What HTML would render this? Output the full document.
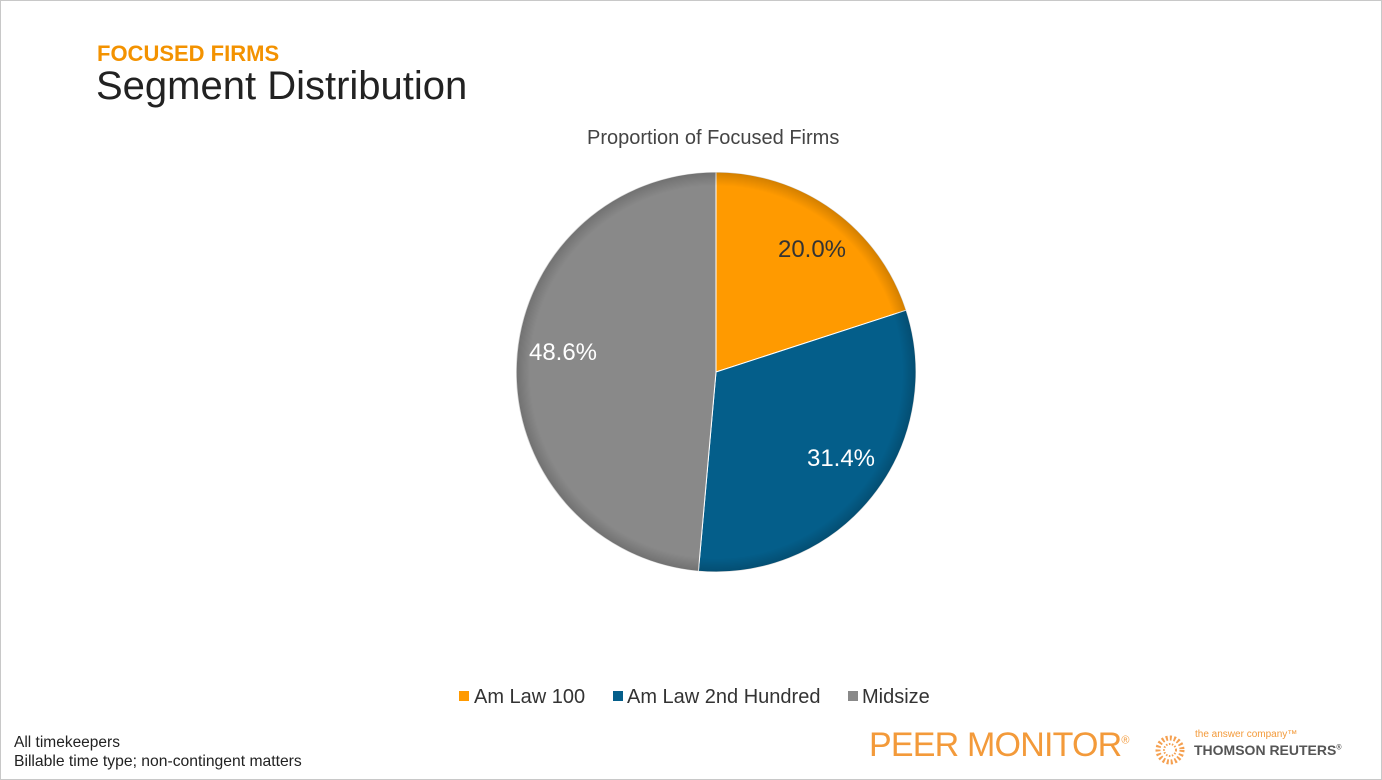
<!DOCTYPE html>
<html><head><style>
body{margin:0;width:1382px;height:780px;background:#fff;position:relative;overflow:hidden;font-family:"Liberation Sans",sans-serif}
.frame{position:absolute;left:0;top:0;width:1380px;height:778px;border:1px solid #c8c8c8}
.t{position:absolute;white-space:nowrap}
</style></head><body>
<div class="frame"></div>
<div class="t" style="left:97px;top:41px;font-size:22px;font-weight:bold;color:#f39200">FOCUSED FIRMS</div>
<div class="t" style="left:96px;top:64px;font-size:40px;color:#222">Segment Distribution</div>
<div class="t" style="left:587px;top:127px;font-size:20px;color:#444">Proportion of Focused Firms</div>
<svg style="position:absolute;left:0;top:0" width="1382" height="780">
<defs>
<radialGradient id="g" cx="716" cy="372" r="200" gradientUnits="userSpaceOnUse">
<stop offset="0.93" stop-color="#000" stop-opacity="0"/><stop offset="1" stop-color="#000" stop-opacity="0.18"/>
</radialGradient>
</defs>
<path d="M716,372 L716,172 A200,200 0 0,1 906.2,310.2 Z" fill="#ff9a00" stroke="#fff" stroke-width="1"/>
<path d="M716,372 L906.2,310.2 A200,200 0 0,1 698.4,571.2 Z" fill="#045e8a" stroke="#fff" stroke-width="1"/>
<path d="M716,372 L698.4,571.2 A200,200 0 0,1 716,172 Z" fill="#898989" stroke="#fff" stroke-width="1"/>
<circle cx="716" cy="372" r="200" fill="url(#g)"/>
<text x="812" y="257" font-size="24" fill="#333" text-anchor="middle" font-family="Liberation Sans">20.0%</text>
<text x="841" y="466" font-size="24" fill="#fff" text-anchor="middle" font-family="Liberation Sans">31.4%</text>
<text x="563" y="360" font-size="24" fill="#fff" text-anchor="middle" font-family="Liberation Sans">48.6%</text>
<rect x="459" y="691" width="10" height="10" fill="#ff9a00"/>
<rect x="613" y="691" width="10" height="10" fill="#045e8a"/>
<rect x="848" y="691" width="10" height="10" fill="#898989"/>
<text x="474" y="703" font-size="20" fill="#333" font-family="Liberation Sans">Am Law 100</text>
<text x="627" y="703" font-size="20" fill="#333" font-family="Liberation Sans">Am Law 2nd Hundred</text>
<text x="862" y="703" font-size="20" fill="#333" font-family="Liberation Sans">Midsize</text>
<g fill="#f5a050">
<circle cx="1170" cy="750" r="12" fill="none" stroke="#f5a050" stroke-width="5" stroke-dasharray="2 2"/>
<circle cx="1170" cy="750" r="6" fill="none" stroke="#f5a050" stroke-width="2" stroke-dasharray="1.5 1.5"/>
</g>
</svg>
<div class="t" style="left:14px;top:734px;font-size:15.5px;color:#222">All timekeepers</div>
<div class="t" style="left:14px;top:753px;font-size:15.7px;color:#222">Billable time type; non-contingent matters</div>
<div class="t" style="left:869px;top:726px;font-size:34px;color:#f39a3a;letter-spacing:-0.8px">PEER MONITOR<sup style="font-size:11px">®</sup></div>
<div class="t" style="left:1195px;top:729px;font-size:10px;color:#f39a3a">the answer company™</div>
<div class="t" style="left:1194px;top:742px;font-size:14px;font-weight:bold;color:#555;letter-spacing:0px">THOMSON REUTERS<sup style="font-size:7px">®</sup></div>
</body></html>
